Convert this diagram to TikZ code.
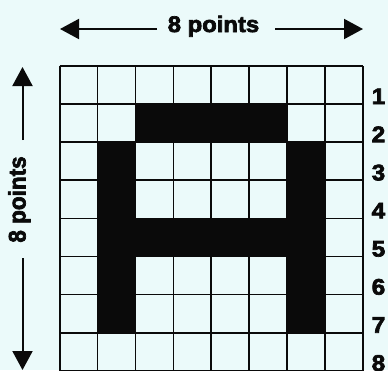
\documentclass[tikz,border=0pt]{standalone}
\usepackage{fontspec}
\setmainfont{Liberation Sans}
\newfontface\heavyfont[FakeBold=3]{Liberation Sans Bold}
\usetikzlibrary{arrows.meta}
\definecolor{paper}{HTML}{EBFAFA}
\definecolor{ink}{HTML}{0A0A0A}
\tikzset{
  gridline/.style={draw=ink,line width=1.7pt},
  pixel/.style={fill=ink},
  dimarrow/.style={draw=ink,line width=2pt,-{Triangle[length=19pt,width=20pt]}},
  dimlabel/.style={text=ink,inner sep=0pt,font=\fontsize{22.5}{22.5}\heavyfont,xscale=1.06,anchor=base},
  rowlabel/.style={text=ink,inner sep=0pt,font=\fontsize{22.5}{22.5}\heavyfont,xscale=1.08,anchor=base west}
}
\begin{document}
\begin{tikzpicture}[x=1pt,y=-1pt]
\useasboundingbox (0,0) rectangle (388,370);
\fill[paper] (0,0) rectangle (388,370);
\def\xz{59.7}\def\cw{37.9}\def\yz{66}\def\ch{38.1}
% black pixels of the letter
\fill[pixel] ({\xz+2*\cw},{\yz+1*\ch}) rectangle ({\xz+6*\cw},{\yz+2*\ch});
\fill[pixel] ({\xz+1*\cw},{\yz+2*\ch}) rectangle ({\xz+2*\cw},{\yz+7*\ch});
\fill[pixel] ({\xz+6*\cw},{\yz+2*\ch}) rectangle ({\xz+7*\cw},{\yz+7*\ch});
\fill[pixel] ({\xz+2*\cw},{\yz+4*\ch}) rectangle ({\xz+6*\cw},{\yz+5*\ch});
% grid
\foreach \i in {0,...,8}{
  \draw[gridline] ({\xz+\i*\cw},\yz) -- ({\xz+\i*\cw},{\yz+8*\ch});
  \draw[gridline] (\xz,{\yz+\i*\ch}) -- ({\xz+8*\cw},{\yz+\i*\ch});
}
% row numbers
\foreach \i in {1,...,8}{
  \node[rowlabel] (r\i) at (371.5,{\yz+\i*\ch}) {\i};
}
% top dimension
\node[dimlabel] (top) at (213.5,32) {8 points};
\coordinate (tl) at (157,29);
\coordinate (tlt) at (60,29);
\coordinate (tr) at (275,29);
\coordinate (trt) at (363,29);
\draw[dimarrow] (tl) -- (tlt);
\draw[dimarrow] (tr) -- (trt);
% left dimension
\node[dimlabel,rotate=90] (left) at (25.5,199.5) {8 points};
\coordinate (lu) at (22.5,140);
\coordinate (lut) at (22.5,67);
\coordinate (ld) at (22.5,258);
\coordinate (ldt) at (22.5,370);
\draw[dimarrow] (lu) -- (lut);
\draw[dimarrow] (ld) -- (ldt);
\end{tikzpicture}
\end{document}
